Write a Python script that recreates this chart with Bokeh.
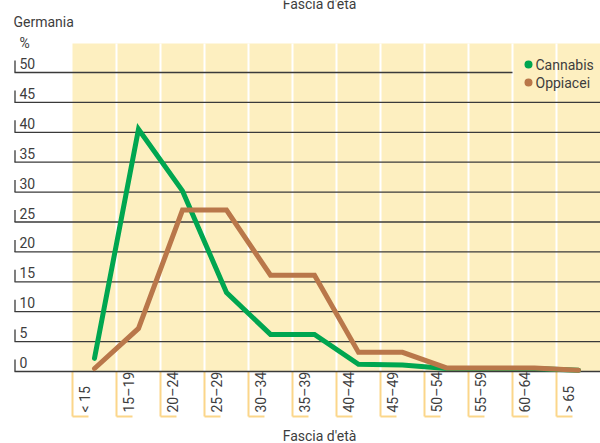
import math
from bokeh.plotting import figure
from bokeh.models import Range1d
from bokeh.core.properties import value
from bokeh.embed import file_html
from bokeh.resources import INLINE

# ---- data ----
categories = ["< 15", "15–19", "20–24", "25–29", "30–34", "35–39",
              "40–44", "45–49", "50–54", "55–59", "60–64", "> 65"]
cannabis = [2.2, 40.5, 30.2, 13.2, 6.2, 6.2, 1.2, 1.1, 0.5, 0.5, 0.5, 0.2]
oppiacei = [0.5, 7.2, 27.0, 27.0, 16.1, 16.1, 3.2, 3.2, 0.6, 0.6, 0.6, 0.2]
y_ticks = [0, 5, 10, 15, 20, 25, 30, 35, 40, 45, 50]
y_tick_labels = [str(v) for v in y_ticks]
series_names = ["Cannabis", "Oppiacei"]

# ---- layout (picture pixels -> data units) ----
W, H = 600, 443
X0, CW = 72, 44     # left of first column, column width (px)
Y0, PU = 371, 5.98  # zero line (px), px per unit

def dx(px):
    return (px - X0) / CW

def dy(py):
    return (Y0 - py) / PU

FONT = value("Roboto")
FS = "14px"
TXT = "#3d3d3d"
GREEN = "#00a650"
BROWN = "#b9774a"
BG = "#fdefc0"
BRACKET = "#fbd68a"

n = len(categories)
xs = [i + 0.5 for i in range(n)]

p = figure(width=W, height=H, output_backend="svg", toolbar_location=None,
           x_range=Range1d(dx(0), dx(W)),
           y_range=Range1d(dy(H), dy(0)),
           x_axis_location=None, y_axis_location=None,
           min_border=0, title=None)
p.grid.visible = False
p.outline_line_color = None
p.background_fill_color = "white"
p.border_fill_color = "white"

# background
top = dy(43)
p.quad(left=[0], right=[n], bottom=[0], top=[top], fill_color=BG, line_color=None)
# white separators
seps = list(range(1, n))
p.segment(x0=seps, y0=[0] * len(seps), x1=seps, y1=[top] * len(seps),
          line_color="white", line_width=2)

# bracket ticks below axis
bl = list(range(n))
bb = dy(416)
p.segment(x0=bl, y0=[0] * n, x1=bl, y1=[bb] * n, line_color=BRACKET, line_width=2)
p.segment(x0=bl, y0=[bb] * n, x1=[b + 16 / CW for b in bl], y1=[bb] * n,
          line_color=BRACKET, line_width=2)

# gridlines
gx0 = dx(14)
gx1 = [dx(512) if v == 50 else n for v in y_ticks]
p.segment(x0=[gx0] * len(y_ticks), y0=y_ticks, x1=gx1, y1=y_ticks,
          line_color="#3a3a3a", line_width=1.3)
p.segment(x0=[dx(14.5)] * len(y_ticks), y0=y_ticks, x1=[dx(14.5)] * len(y_ticks),
          y1=[v + 12 / PU for v in y_ticks], line_color="#3a3a3a", line_width=1.3)
p.text(x=[dx(19)] * len(y_ticks), y=[v + 9 / PU for v in y_ticks], text=y_tick_labels,
       text_font=FONT, text_font_size=FS, text_color=TXT,
       text_baseline="middle", text_align="left")

# lines
p.line(xs, cannabis, line_color=GREEN, line_width=5, line_join="miter", line_cap="round")
p.line(xs, oppiacei, line_color=BROWN, line_width=5, line_join="miter", line_cap="round")

# x labels
p.text(x=[i + 12 / CW for i in range(n)], y=[dy(412)] * n, text=categories,
       angle=math.pi / 2, text_font=FONT, text_font_size=FS, text_color=TXT,
       text_align="left", text_baseline="middle")

# legend
ly = [dy(64), dy(82)]
p.scatter(x=[dx(528)] * 2, y=ly, size=8, fill_color=[GREEN, BROWN], line_color=None)
p.text(x=[dx(535)] * 2, y=ly, text=series_names, text_font=FONT,
       text_font_size=FS, text_color=TXT, text_baseline="middle", text_align="left")

# titles
p.text(x=[dx(13)], y=[dy(21.5)], text=["Germania"], text_font=FONT,
       text_font_size=FS, text_color=TXT, text_baseline="middle")
p.text(x=[dx(19)], y=[dy(42.5)], text=["%"], text_font=FONT,
       text_font_size=FS, text_color=TXT, text_baseline="middle")
p.text(x=[dx(319)], y=[dy(435)], text=["Fascia d'età"], text_font=FONT,
       text_font_size=FS, text_color=TXT, text_baseline="middle",
       text_align="center")
p.text(x=[dx(319)], y=[dy(3)], text=["Fascia d'età"], text_font=FONT,
       text_font_size=FS, text_color=TXT, text_baseline="middle",
       text_align="center")

open("out.html", "w").write(file_html(p, INLINE))
